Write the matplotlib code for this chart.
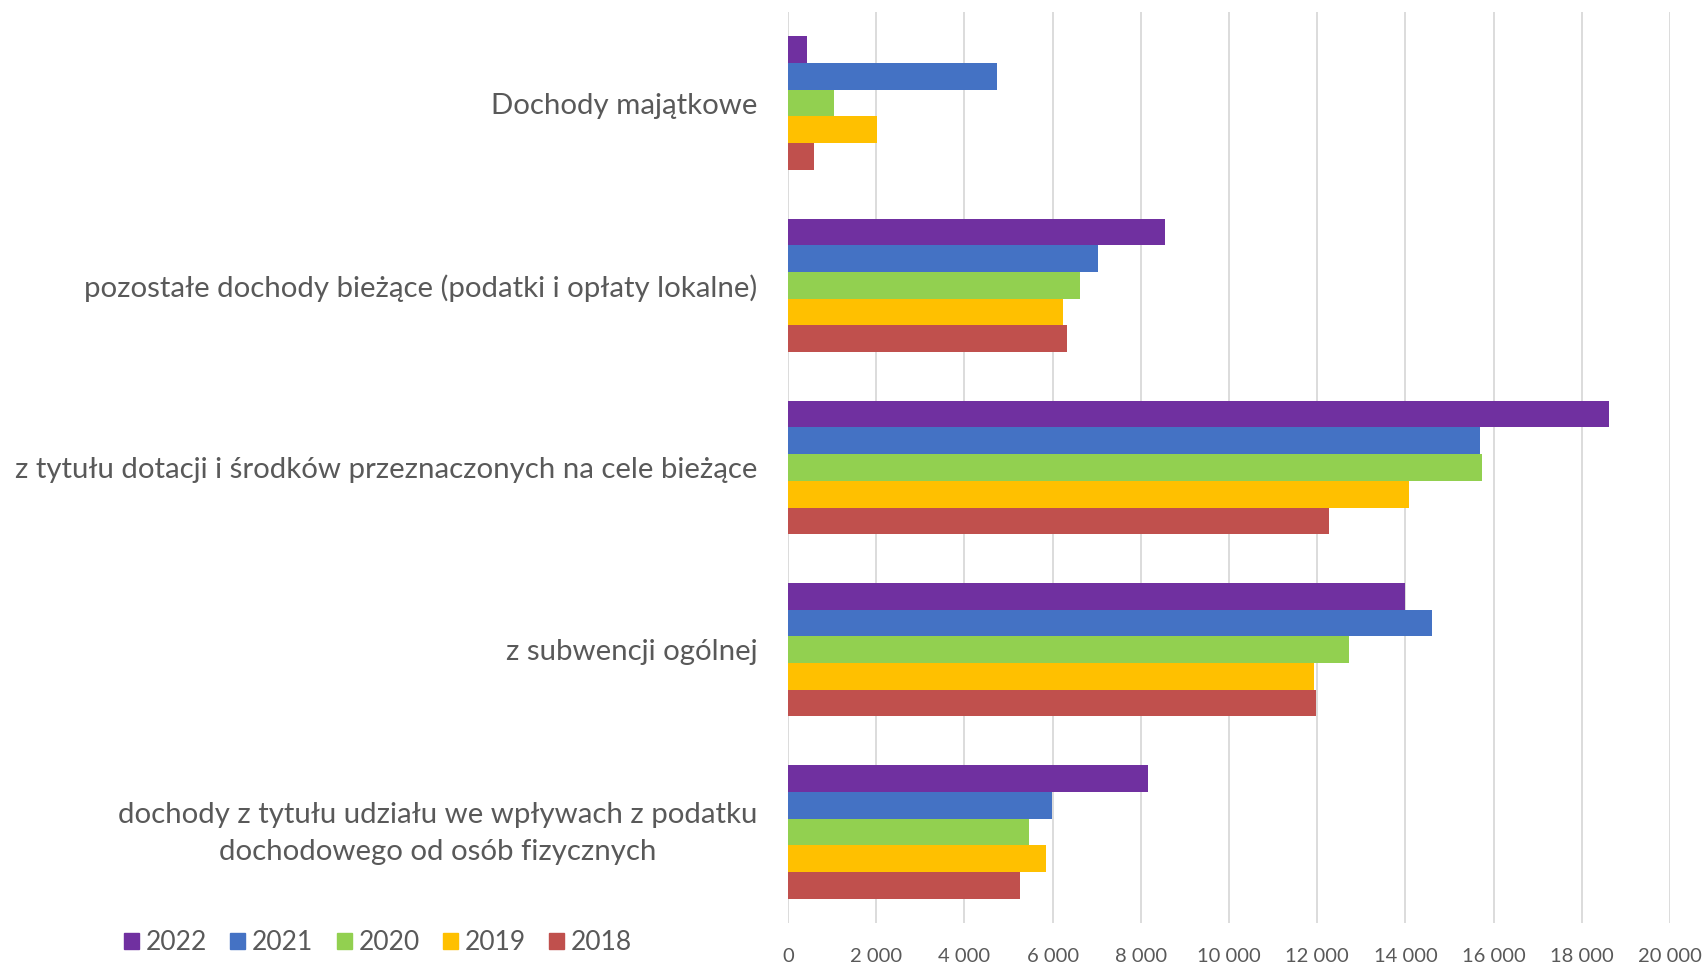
import numpy as np
import matplotlib
matplotlib.use("Agg")
from matplotlib import pyplot as plt
from matplotlib.ticker import FuncFormatter
from matplotlib.patches import Patch
from matplotlib.transforms import ScaledTranslation

categories = [
    "Dochody majątkowe",
    "pozostałe dochody bieżące (podatki i opłaty lokalne)",
    "z tytułu dotacji i środków przeznaczonych na cele bieżące",
    "z subwencji ogólnej",
    "dochody z tytułu udziału we wpływach z podatku\ndochodowego od osób fizycznych",
]
years = ["2022", "2021", "2020", "2019", "2018"]
v2022 = [430, 8550, 18620, 13990, 8160]
v2021 = [4740, 7030, 15700, 14600, 5990]
v2020 = [1050, 6630, 15740, 12720, 5460]
v2019 = [2010, 6240, 14080, 11930, 5850]
v2018 = [580, 6320, 12270, 11970, 5260]
colours = ["#7030A0", "#4472C4", "#92D050", "#FFC000", "#C0504D"]

plt.rcParams['font.family'] = ['Lato', 'DejaVu Sans']
txt = "#595959"

fig = plt.figure(figsize=(17.08, 9.66), dpi=100)
ax = fig.add_axes([788/1708, 1-923/966, (1670-788)/1708, (923-12)/966])

series = [v2022, v2021, v2020, v2019, v2018]
h = 0.1464
pos = np.arange(len(categories))
for k, vals in enumerate(series):
    ax.barh(pos + (k-2)*h, vals, height=h, color=colours[k], label=years[k], zorder=2)

ax.set_ylim(len(categories)-0.5, -0.5)
ax.set_xlim(0, 20000)
ax.set_xticks(np.arange(0, 20001, 2000))
ax.xaxis.set_major_formatter(FuncFormatter(lambda x, p: f"{int(x):,}".replace(",", " ")))
ax.set_yticks(pos)
ax.set_yticklabels(categories, fontsize=21.2, color=txt, multialignment='center', linespacing=1.52)
ax.tick_params(axis='y', length=0, pad=22)
ax.tick_params(axis='x', length=0, pad=18, labelsize=14.5, labelcolor=txt)
ax.grid(axis='x', color='#D9D9D9', lw=1.3)
ax.set_axisbelow(True)
for s in ax.spines.values():
    s.set_visible(False)

# nudge the two-line label up a little
lab = ax.get_yticklabels()[-1]
lab.set_transform(lab.get_transform() + ScaledTranslation(0, 0.06, fig.dpi_scale_trans))

handles = [Patch(color=c) for c in colours]
fig.legend(handles, years, loc='center left', bbox_to_anchor=(0.0585, 1-943/966), ncol=5,
           frameon=False, fontsize=19, labelcolor=txt, handlelength=0.58, handleheight=0.58,
           handletextpad=0.25, columnspacing=0.88)

fig.savefig("out.png", dpi=100)
